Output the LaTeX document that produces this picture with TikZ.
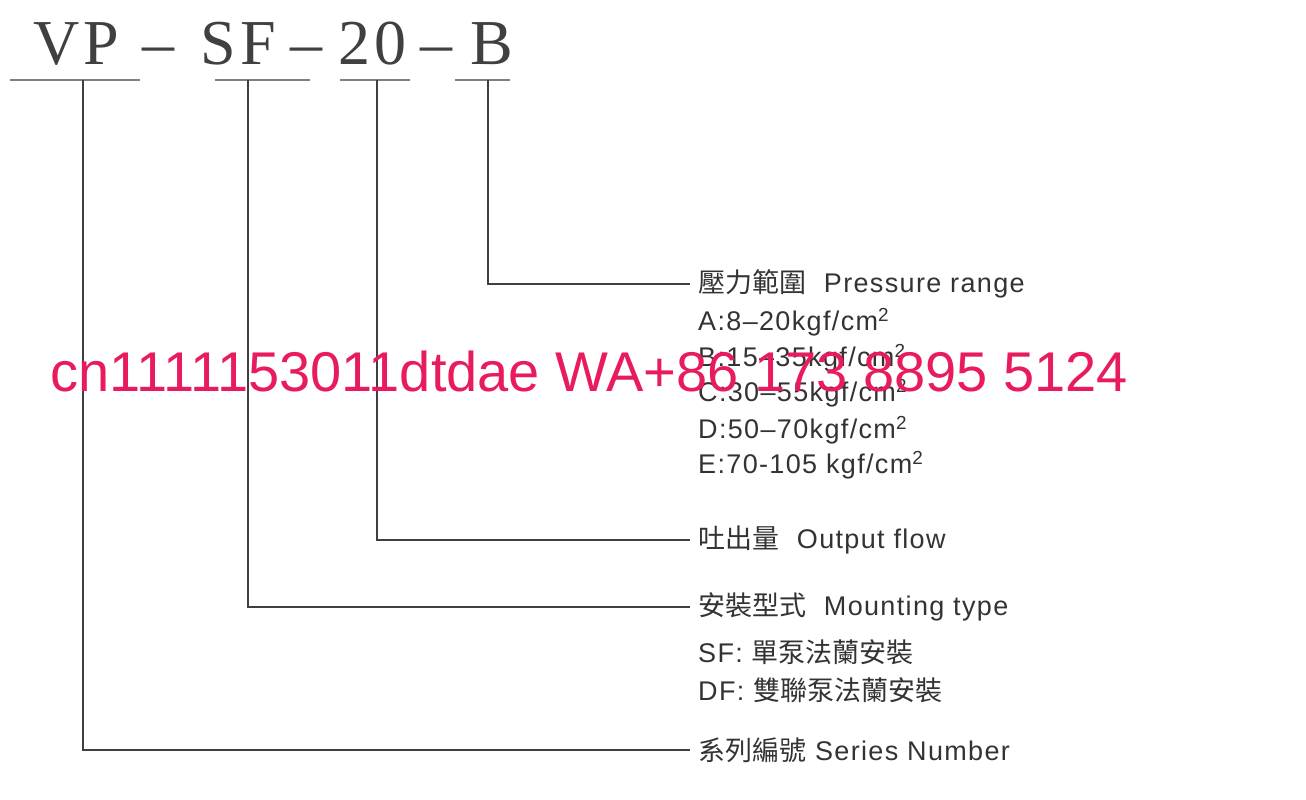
\documentclass[tikz,border=0pt]{standalone}
\usepackage{fontspec}
\setmainfont{Liberation Sans}[LetterSpace=5]
\newfontfamily\cjk{Noto Sans CJK TC}
\newfontfamily\titlefont{Liberation Serif}
\begin{document}
\begin{tikzpicture}[x=1pt,y=-1pt,
  ln/.style={draw=black!75,line width=1.3pt},
  lab/.style={anchor=west,inner sep=0pt,text=black!80,font=\fontsize{27}{30}\selectfont},
  wm/.style={anchor=west,inner sep=0pt,text={rgb,255:red,232;green,28;blue,92},font=\fontsize{56}{60}\selectfont\addfontfeature{LetterSpace=0}}]
\useasboundingbox (0,0) rectangle (1306,800);
\node[anchor=base west,inner sep=0pt,text=black!75,font=\titlefont\fontsize{64}{70}\selectfont] (title) at (33,65) {V\hspace{4pt}P\hspace{24pt}–\hspace{26pt}S\hspace{4pt}F\hspace{14pt}–\hspace{16pt}2\hspace{4pt}0\hspace{14pt}–\hspace{18pt}B};
\coordinate (u1a) at (10,80); \coordinate (u1b) at (140,80);
\coordinate (u2a) at (215,80); \coordinate (u2b) at (310,80);
\coordinate (u3a) at (340,80); \coordinate (u3b) at (410,80);
\coordinate (u4a) at (455,80); \coordinate (u4b) at (510,80);
\draw[ln,draw=black!50] (u1a)--(u1b) (u2a)--(u2b) (u3a)--(u3b) (u4a)--(u4b);
\node[lab] (pr) at (698,284) {{\cjk 壓力範圍}\ \ Pressure range};
\node[lab] (a) at (698,322) {A:8–20kgf/cm\textsuperscript{2}};
\node[lab] (b) at (698,358) {B:15–35kgf/cm\textsuperscript{2}};
\node[lab] (c) at (698,393) {C:30–55kgf/cm\textsuperscript{2}};
\node[lab] (d) at (698,430) {D:50–70kgf/cm\textsuperscript{2}};
\node[lab] (e) at (698,465) {E:70-105 kgf/cm\textsuperscript{2}};
\node[lab] (of) at (698,540) {{\cjk 吐出量}\ \ Output flow};
\node[lab] (mt) at (698,607) {{\cjk 安裝型式}\ \ Mounting type};
\node[lab] (sf) at (698,652) {SF: {\cjk 單泵法蘭安裝}};
\node[lab] (df) at (698,690) {DF: {\cjk 雙聯泵法蘭安裝}};
\node[lab] (sn) at (698,750) {{\cjk 系列編號}\ Series Number};
\draw[ln] (488,80) |- ([xshift=-8pt]pr.west);
\draw[ln] (377,80) |- ([xshift=-8pt]of.west);
\draw[ln] (248,80) |- ([xshift=-8pt]mt.west);
\draw[ln] (83,80) |- ([xshift=-8pt]sn.west);
\node[wm] (w) at (50,371) {cn1111153011dtdae WA+86 173 8895 5124};
\end{tikzpicture}
\end{document}
